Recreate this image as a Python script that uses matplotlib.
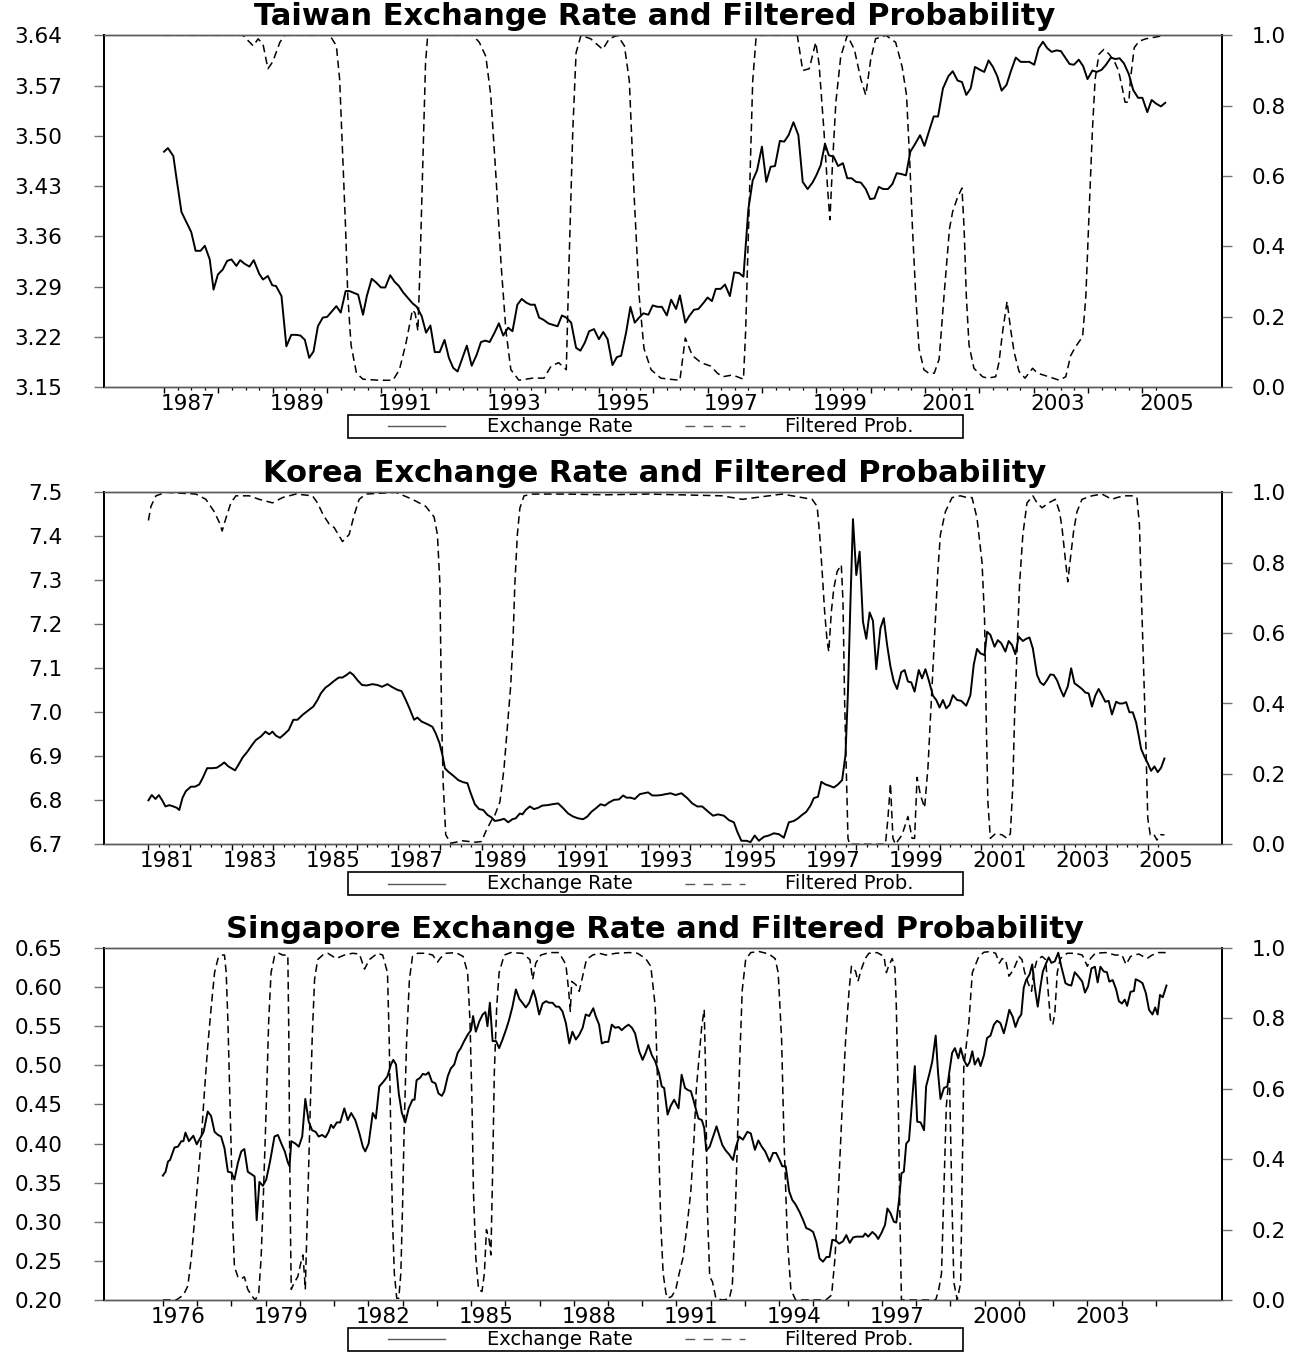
import numpy as np
import matplotlib.pyplot as plt
from matplotlib.patches import Rectangle
from matplotlib.lines import Line2D

# ---------------- Taiwan ----------------
tw_rate_t = [1987.00, 1987.07, 1987.17, 1987.23, 1987.32, 1987.41, 1987.50, 1987.58, 1987.67, 1987.75,
             1987.84, 1987.91, 1987.99, 1988.08, 1988.16, 1988.24, 1988.33, 1988.40, 1988.48, 1988.57,
             1988.65, 1988.75, 1988.82, 1988.91, 1988.99, 1989.06, 1989.16, 1989.25, 1989.34, 1989.43,
             1989.51, 1989.59, 1989.67, 1989.75, 1989.83, 1989.92, 1990.00, 1990.08, 1990.17, 1990.25,
             1990.34, 1990.41, 1990.57, 1990.66, 1990.73, 1990.82, 1990.90, 1990.99, 1991.07, 1991.16,
             1991.24, 1991.32, 1991.40, 1991.48, 1991.57, 1991.65, 1991.74, 1991.82, 1991.90, 1991.98,
             1992.07, 1992.16, 1992.24, 1992.32, 1992.40, 1992.49, 1992.57, 1992.66, 1992.75, 1992.83,
             1992.91, 1992.99, 1993.08, 1993.16, 1993.24, 1993.33, 1993.41, 1993.50, 1993.58, 1993.66,
             1993.74, 1993.82, 1993.90, 1993.98, 1994.07, 1994.15, 1994.24, 1994.32, 1994.40, 1994.49,
             1994.58, 1994.66, 1994.74, 1994.82, 1994.91, 1995.00, 1995.08, 1995.16, 1995.25, 1995.33,
             1995.41, 1995.50, 1995.58, 1995.66, 1995.74, 1995.82, 1995.91, 1995.99, 1996.08, 1996.16,
             1996.25, 1996.33, 1996.42, 1996.49, 1996.59, 1996.66, 1996.75, 1996.83, 1996.93, 1997.00,
             1997.08, 1997.15, 1997.24, 1997.32, 1997.41, 1997.49, 1997.58, 1997.66, 1997.75, 1997.83,
             1997.91, 1998.00, 1998.08, 1998.16, 1998.24, 1998.33, 1998.41, 1998.49, 1998.58, 1998.67,
             1998.75, 1998.84, 1998.93, 1999.00, 1999.08, 1999.16, 1999.23, 1999.32, 1999.40, 1999.49,
             1999.57, 1999.65, 1999.73, 1999.82, 1999.91, 1999.99, 2000.07, 2000.15, 2000.23, 2000.32,
             2000.40, 2000.48, 2000.56, 2000.65, 2000.73, 2000.82, 2000.91, 2000.99, 2001.08, 2001.16,
             2001.24, 2001.33, 2001.43, 2001.51, 2001.60, 2001.68, 2001.76, 2001.84, 2001.92, 2002.01,
             2002.09, 2002.17, 2002.25, 2002.33, 2002.41, 2002.50, 2002.58, 2002.67, 2002.76, 2002.84,
             2002.92, 2003.01, 2003.09, 2003.17, 2003.25, 2003.33, 2003.42, 2003.50, 2003.58, 2003.66,
             2003.74, 2003.83, 2003.91, 2003.99, 2004.08, 2004.16, 2004.25, 2004.33, 2004.42, 2004.50,
             2004.58, 2004.66, 2004.75, 2004.83, 2004.92, 2005.00, 2005.09, 2005.17, 2005.25, 2005.34,
             2005.42]
tw_rate_v = [3.478, 3.483, 3.472, 3.440, 3.394, 3.380, 3.366, 3.340, 3.340, 3.347,
             3.328, 3.286, 3.307, 3.314, 3.326, 3.328, 3.319, 3.327, 3.322, 3.318,
             3.327, 3.308, 3.300, 3.305, 3.292, 3.291, 3.277, 3.207, 3.223, 3.223,
             3.222, 3.216, 3.191, 3.200, 3.235, 3.247, 3.248, 3.255, 3.263, 3.254,
             3.284, 3.284, 3.279, 3.251, 3.277, 3.301, 3.296, 3.289, 3.289, 3.306,
             3.297, 3.291, 3.282, 3.275, 3.267, 3.262, 3.249, 3.226, 3.236, 3.199,
             3.199, 3.216, 3.191, 3.177, 3.172, 3.191, 3.208, 3.180, 3.195, 3.213,
             3.215, 3.213, 3.226, 3.239, 3.222, 3.233, 3.228, 3.265, 3.273, 3.268,
             3.265, 3.265, 3.247, 3.244, 3.239, 3.237, 3.235, 3.250, 3.247, 3.240,
             3.205, 3.201, 3.212, 3.228, 3.231, 3.217, 3.227, 3.217, 3.181, 3.192,
             3.194, 3.226, 3.262, 3.240, 3.247, 3.253, 3.251, 3.264, 3.262, 3.262,
             3.250, 3.272, 3.259, 3.278, 3.240, 3.249, 3.258, 3.259, 3.268, 3.275,
             3.270, 3.287, 3.287, 3.293, 3.277, 3.310, 3.309, 3.304, 3.398, 3.438,
             3.452, 3.485, 3.436, 3.457, 3.458, 3.493, 3.492, 3.501, 3.519, 3.501,
             3.436, 3.426, 3.435, 3.445, 3.459, 3.489, 3.473, 3.471, 3.458, 3.462,
             3.441, 3.441, 3.436, 3.435, 3.426, 3.412, 3.413, 3.429, 3.426, 3.426,
             3.433, 3.448, 3.447, 3.445, 3.478, 3.489, 3.501, 3.486, 3.508, 3.527,
             3.527, 3.566, 3.583, 3.590, 3.577, 3.575, 3.557, 3.566, 3.596, 3.592,
             3.589, 3.605, 3.596, 3.583, 3.563, 3.571, 3.590, 3.609, 3.603, 3.603,
             3.603, 3.599, 3.622, 3.631, 3.622, 3.617, 3.619, 3.618, 3.609, 3.600,
             3.599, 3.606, 3.597, 3.579, 3.591, 3.589, 3.592, 3.599, 3.609, 3.607,
             3.608, 3.601, 3.586, 3.564, 3.553, 3.553, 3.533, 3.550, 3.545, 3.541,
             3.546]
tw_prob_t = [1987.00, 1988.45, 1988.64, 1988.73, 1988.82, 1988.91, 1989.00, 1989.13, 1989.22, 1990.05,
             1990.17, 1990.23, 1990.29, 1990.34, 1990.38, 1990.44, 1990.54, 1990.66, 1990.96, 1991.21,
             1991.33, 1991.45, 1991.57, 1991.62, 1991.67, 1991.71, 1991.76, 1991.81, 1991.85, 1992.68,
             1992.80, 1992.92, 1993.01, 1993.11, 1993.20, 1993.29, 1993.38, 1993.53, 1993.78, 1993.99,
             1994.12, 1994.26, 1994.40, 1994.45, 1994.52, 1994.58, 1994.67, 1994.85, 1995.07, 1995.19,
             1995.34, 1995.47, 1995.56, 1995.65, 1995.74, 1995.83, 1995.96, 1996.14, 1996.30, 1996.49,
             1996.59, 1996.72, 1996.88, 1997.06, 1997.18, 1997.28, 1997.46, 1997.66, 1997.70, 1997.77,
             1997.83, 1997.89, 1997.98, 1998.65, 1998.75, 1998.87, 1998.99, 1999.05, 1999.14, 1999.21,
             1999.25, 1999.30, 1999.36, 1999.45, 1999.57, 1999.70, 1999.82, 1999.91, 2000.00, 2000.09,
             2000.28, 2000.46, 2000.58, 2000.66, 2000.72, 2000.77, 2000.83, 2000.89, 2000.98, 2001.07,
             2001.17, 2001.26, 2001.35, 2001.45, 2001.51, 2001.60, 2001.68, 2001.72, 2001.76, 2001.81,
             2001.90, 2002.06, 2002.15, 2002.30, 2002.36, 2002.43, 2002.51, 2002.58, 2002.64, 2002.73,
             2002.84, 2002.98, 2003.07, 2003.28, 2003.47, 2003.59, 2003.68, 2003.77, 2003.90, 2003.96,
             2004.02, 2004.08, 2004.13, 2004.20, 2004.29, 2004.39, 2004.48, 2004.56, 2004.63, 2004.68,
             2004.75, 2004.78, 2004.85, 2004.94, 2005.06, 2005.42]
tw_prob_v = [1.0, 1.0, 0.97, 0.99, 0.975, 0.905, 0.925, 0.98, 1.0, 1.0,
             0.97, 0.875, 0.64, 0.45, 0.26, 0.12, 0.04, 0.023, 0.02, 0.02,
             0.05, 0.125, 0.22, 0.21, 0.16, 0.35, 0.64, 0.92, 1.0, 1.0,
             0.98, 0.94, 0.83, 0.59, 0.35, 0.16, 0.05, 0.02, 0.026, 0.026,
             0.06, 0.07, 0.05, 0.35, 0.73, 0.95, 1.0, 0.99, 0.96, 0.99,
             1.0, 0.97, 0.87, 0.54, 0.26, 0.11, 0.05, 0.026, 0.023, 0.02,
             0.14, 0.09, 0.07, 0.06, 0.04, 0.03, 0.035, 0.023, 0.16, 0.54,
             0.87, 0.99, 1.0, 1.0, 0.90, 0.905, 0.98, 0.92, 0.73, 0.56,
             0.476, 0.64, 0.81, 0.94, 1.0, 0.96, 0.875, 0.83, 0.93, 0.99,
             1.0, 0.98, 0.91, 0.83, 0.64, 0.45, 0.26, 0.11, 0.05, 0.04,
             0.04, 0.08, 0.26, 0.45, 0.50, 0.54, 0.566, 0.45, 0.26, 0.12,
             0.054, 0.03, 0.026, 0.03, 0.07, 0.16, 0.244, 0.16, 0.10, 0.045,
             0.026, 0.054, 0.04, 0.03, 0.02, 0.03, 0.09, 0.115, 0.144, 0.26,
             0.50, 0.73, 0.875, 0.946, 0.96, 0.946, 0.927, 0.90, 0.85, 0.81,
             0.81, 0.875, 0.965, 0.983, 0.99, 1.0]

# ---------------- Korea ----------------
kr_rate_t = [1981.00, 1981.08, 1981.17, 1981.25, 1981.33, 1981.41, 1981.50, 1981.60, 1981.68, 1981.74,
             1981.82, 1981.90, 1982.02, 1982.12, 1982.22, 1982.30, 1982.41, 1982.53, 1982.64, 1982.74,
             1982.82, 1982.92, 1983.08, 1983.17, 1983.26, 1983.38, 1983.49, 1983.58, 1983.70, 1983.81,
             1983.90, 1983.98, 1984.06, 1984.16, 1984.26, 1984.37, 1984.48, 1984.58, 1984.70, 1984.82,
             1984.96, 1985.06, 1985.14, 1985.25, 1985.34, 1985.44, 1985.57, 1985.66, 1985.76, 1985.84,
             1985.92, 1986.02, 1986.13, 1986.24, 1986.38, 1986.50, 1986.61, 1986.74, 1986.86, 1986.98,
             1987.08, 1987.18, 1987.26, 1987.38, 1987.46, 1987.56, 1987.70, 1987.82, 1987.90, 1987.99,
             1988.06, 1988.12, 1988.20, 1988.32, 1988.44, 1988.56, 1988.66, 1988.74, 1988.84, 1988.94,
             1989.04, 1989.14, 1989.24, 1989.32, 1989.44, 1989.54, 1989.64, 1989.74, 1989.82, 1989.92,
             1989.98, 1990.06, 1990.16, 1990.26, 1990.36, 1990.46, 1990.58, 1990.70, 1990.84, 1990.96,
             1991.08, 1991.20, 1991.32, 1991.44, 1991.54, 1991.64, 1991.76, 1991.86, 1991.96, 1992.06,
             1992.18, 1992.30, 1992.40, 1992.48, 1992.58, 1992.68, 1992.80, 1992.90, 1993.00, 1993.10,
             1993.22, 1993.32, 1993.42, 1993.54, 1993.66, 1993.80, 1993.94, 1994.06, 1994.18, 1994.30,
             1994.42, 1994.56, 1994.68, 1994.82, 1994.94, 1995.06, 1995.14, 1995.24, 1995.36, 1995.46,
             1995.56, 1995.66, 1995.78, 1995.90, 1996.02, 1996.14, 1996.26, 1996.38, 1996.50, 1996.60,
             1996.70, 1996.80, 1996.90, 1996.98, 1997.08, 1997.16, 1997.26, 1997.36, 1997.46, 1997.56,
             1997.66, 1997.74, 1997.80, 1997.86, 1997.92, 1998.00, 1998.08, 1998.16, 1998.24, 1998.32,
             1998.40, 1998.48, 1998.58, 1998.66, 1998.74, 1998.82, 1998.90, 1998.98, 1999.08, 1999.16,
             1999.24, 1999.32, 1999.40, 1999.50, 1999.58, 1999.66, 1999.74, 1999.84, 1999.92, 2000.00,
             2000.08, 2000.16, 2000.24, 2000.32, 2000.42, 2000.52, 2000.64, 2000.74, 2000.82, 2000.90,
             2000.98, 2001.08, 2001.14, 2001.22, 2001.32, 2001.40, 2001.48, 2001.58, 2001.66, 2001.74,
             2001.82, 2001.90, 2002.00, 2002.08, 2002.16, 2002.24, 2002.34, 2002.42, 2002.50, 2002.58,
             2002.66, 2002.74, 2002.82, 2002.90, 2002.98, 2003.08, 2003.16, 2003.24, 2003.34, 2003.42,
             2003.50, 2003.58, 2003.66, 2003.74, 2003.82, 2003.90, 2003.98, 2004.06, 2004.14, 2004.24,
             2004.32, 2004.40, 2004.48, 2004.56, 2004.64, 2004.72, 2004.78, 2004.84, 2004.92, 2005.00,
             2005.08, 2005.16, 2005.24, 2005.32, 2005.40]
kr_rate_v = [6.800, 6.812, 6.803, 6.812, 6.800, 6.786, 6.789, 6.786, 6.783, 6.778,
             6.806, 6.821, 6.831, 6.831, 6.836, 6.850, 6.873, 6.873, 6.874, 6.880,
             6.886, 6.877, 6.868, 6.882, 6.897, 6.911, 6.926, 6.937, 6.945, 6.956,
             6.950, 6.956, 6.947, 6.942, 6.950, 6.960, 6.983, 6.983, 6.994, 7.003,
             7.013, 7.028, 7.043, 7.056, 7.062, 7.070, 7.079, 7.079, 7.085, 7.091,
             7.085, 7.073, 7.062, 7.061, 7.064, 7.062, 7.058, 7.064, 7.057, 7.051,
             7.048, 7.028, 7.011, 6.983, 6.988, 6.979, 6.973, 6.967, 6.952, 6.930,
             6.903, 6.873, 6.865, 6.856, 6.846, 6.841, 6.839, 6.816, 6.791, 6.780,
             6.778, 6.767, 6.761, 6.753, 6.755, 6.758, 6.750, 6.757, 6.759, 6.770,
             6.768, 6.778, 6.786, 6.780, 6.783, 6.788, 6.789, 6.791, 6.793, 6.782,
             6.770, 6.763, 6.759, 6.757, 6.763, 6.774, 6.783, 6.791, 6.788, 6.795,
             6.801, 6.802, 6.811, 6.806, 6.806, 6.803, 6.814, 6.816, 6.818, 6.811,
             6.811, 6.812, 6.814, 6.816, 6.812, 6.816, 6.805, 6.793, 6.786, 6.786,
             6.776, 6.765, 6.768, 6.765, 6.755, 6.750, 6.729, 6.708, 6.708, 6.705,
             6.720, 6.708, 6.717, 6.720, 6.725, 6.723, 6.715, 6.750, 6.753, 6.759,
             6.767, 6.774, 6.788, 6.805, 6.808, 6.842, 6.836, 6.833, 6.829, 6.836,
             6.846, 6.903, 7.047, 7.252, 7.439, 7.312, 7.365, 7.206, 7.167, 7.227,
             7.208, 7.098, 7.191, 7.214, 7.153, 7.104, 7.070, 7.053, 7.091, 7.096,
             7.070, 7.068, 7.047, 7.096, 7.077, 7.098, 7.073, 7.038, 7.028, 7.011,
             7.028, 7.009, 7.017, 7.039, 7.028, 7.026, 7.015, 7.039, 7.108, 7.144,
             7.134, 7.130, 7.183, 7.176, 7.149, 7.164, 7.157, 7.138, 7.162, 7.153,
             7.132, 7.172, 7.162, 7.167, 7.170, 7.145, 7.085, 7.068, 7.062, 7.073,
             7.086, 7.085, 7.073, 7.053, 7.036, 7.059, 7.100, 7.066, 7.059, 7.053,
             7.045, 7.043, 7.013, 7.038, 7.053, 7.039, 7.024, 7.026, 6.995, 7.024,
             7.020, 7.020, 7.023, 7.000, 7.000, 6.977, 6.948, 6.917, 6.899, 6.884,
             6.867, 6.877, 6.864, 6.874, 6.895]
kr_prob_t = [1981.00, 1981.06, 1981.18, 1981.42, 1982.14, 1982.38, 1982.58, 1982.72, 1982.77, 1982.86,
             1982.98, 1983.10, 1983.42, 1983.66, 1983.98, 1984.22, 1984.54, 1984.94, 1985.06, 1985.20,
             1985.34, 1985.46, 1985.66, 1985.82, 1985.94, 1986.06, 1986.22, 1986.94, 1987.34, 1987.66,
             1987.86, 1987.94, 1988.00, 1988.02, 1988.04, 1988.08, 1988.14, 1988.26, 1988.54, 1988.86,
             1989.00, 1989.10, 1989.22, 1989.32, 1989.44, 1989.54, 1989.64, 1989.70, 1989.76, 1989.80,
             1989.86, 1989.92, 1990.02, 1990.22, 1991.00, 1992.00, 1993.00, 1994.78, 1995.26, 1995.58,
             1996.22, 1996.70, 1996.94, 1997.06, 1997.12, 1997.18, 1997.24, 1997.30, 1997.34, 1997.40,
             1997.46, 1997.54, 1997.64, 1997.68, 1997.72, 1997.77, 1997.80, 1997.84, 1998.70, 1998.76,
             1998.82, 1998.88, 1998.94, 1999.10, 1999.24, 1999.34, 1999.40, 1999.46, 1999.54, 1999.64,
             1999.72, 1999.78, 1999.84, 1999.90, 1999.96, 2000.02, 2000.14, 2000.30, 2000.50, 2000.66,
             2000.78, 2000.90, 2001.02, 2001.08, 2001.12, 2001.16, 2001.22, 2001.34, 2001.50, 2001.62,
             2001.70, 2001.76, 2001.80, 2001.86, 2001.92, 2002.00, 2002.10, 2002.24, 2002.34, 2002.46,
             2002.62, 2002.78, 2002.88, 2002.94, 2003.02, 2003.08, 2003.14, 2003.22, 2003.30, 2003.42,
             2003.66, 2003.90, 2004.14, 2004.26, 2004.42, 2004.62, 2004.74, 2004.80, 2004.84, 2004.90,
             2004.96, 2005.00, 2005.06, 2005.14, 2005.22, 2005.30, 2005.40]
kr_prob_v = [0.92, 0.96, 0.99, 1.0, 0.995, 0.98, 0.945, 0.91, 0.89, 0.926,
             0.97, 0.99, 0.99, 0.98, 0.97, 0.985, 0.995, 0.99, 0.97, 0.935,
             0.91, 0.90, 0.86, 0.88, 0.935, 0.98, 0.995, 1.0, 0.98, 0.96,
             0.93, 0.88, 0.74, 0.55, 0.36, 0.17, 0.027, 0.003, 0.01, 0.006,
             0.008, 0.036, 0.064, 0.083, 0.12, 0.216, 0.36, 0.45, 0.595, 0.74,
             0.88, 0.955, 0.99, 0.995, 0.995, 0.993, 0.995, 0.99, 0.98, 0.985,
             0.995, 0.985, 0.98, 0.96, 0.88, 0.775, 0.66, 0.576, 0.547, 0.66,
             0.727, 0.775, 0.794, 0.69, 0.405, 0.17, 0.017, 0.0, 0.0, 0.074,
             0.173, 0.017, 0.0, 0.027, 0.079, 0.017, 0.017, 0.19, 0.14, 0.104,
             0.216, 0.358, 0.50, 0.64, 0.78, 0.88, 0.945, 0.985, 0.99, 0.985,
             0.985, 0.926, 0.80, 0.64, 0.36, 0.12, 0.017, 0.03, 0.027, 0.017,
             0.03, 0.17, 0.36, 0.547, 0.737, 0.88, 0.97, 0.99, 0.97, 0.956,
             0.97, 0.98, 0.945, 0.90, 0.81, 0.746, 0.81, 0.89, 0.945, 0.98,
             0.99, 0.995, 0.98, 0.985, 0.99, 0.99, 0.985, 0.907, 0.737, 0.50,
             0.263, 0.074, 0.027, 0.03, 0.012, 0.027, 0.027]

# ---------------- Singapore ----------------
sg_rate_t = [1976.00, 1976.08, 1976.15, 1976.21, 1976.34, 1976.44, 1976.54, 1976.60, 1976.66, 1976.76,
             1976.89, 1976.99, 1977.09, 1977.19, 1977.31, 1977.41, 1977.51, 1977.61, 1977.70, 1977.80,
             1977.90, 1978.00, 1978.09, 1978.19, 1978.29, 1978.38, 1978.48, 1978.58, 1978.68, 1978.74,
             1978.82, 1978.92, 1979.02, 1979.13, 1979.26, 1979.36, 1979.46, 1979.56, 1979.65, 1979.70,
             1979.75, 1979.87, 1979.97, 1980.07, 1980.16, 1980.26, 1980.36, 1980.46, 1980.55, 1980.65,
             1980.75, 1980.84, 1980.91, 1980.98, 1981.08, 1981.18, 1981.30, 1981.40, 1981.50, 1981.62,
             1981.74, 1981.84, 1981.91, 1982.01, 1982.13, 1982.22, 1982.32, 1982.44, 1982.56, 1982.66,
             1982.73, 1982.81, 1982.89, 1982.98, 1983.08, 1983.18, 1983.29, 1983.35, 1983.41, 1983.51,
             1983.59, 1983.68, 1983.76, 1983.86, 1983.96, 1984.05, 1984.15, 1984.22, 1984.32, 1984.41,
             1984.51, 1984.61, 1984.70, 1984.80, 1984.90, 1985.00, 1985.06, 1985.14, 1985.24, 1985.34,
             1985.42, 1985.48, 1985.55, 1985.63, 1985.73, 1985.82, 1985.92, 1986.04, 1986.11, 1986.21,
             1986.31, 1986.41, 1986.50, 1986.60, 1986.70, 1986.82, 1986.89, 1986.99, 1987.09, 1987.19,
             1987.28, 1987.38, 1987.48, 1987.57, 1987.67, 1987.77, 1987.87, 1987.96, 1988.06, 1988.16,
             1988.26, 1988.35, 1988.45, 1988.57, 1988.64, 1988.74, 1988.82, 1988.92, 1989.01, 1989.11,
             1989.21, 1989.31, 1989.40, 1989.50, 1989.60, 1989.70, 1989.79, 1989.91, 1990.01, 1990.10,
             1990.18, 1990.28, 1990.38, 1990.49, 1990.57, 1990.64, 1990.74, 1990.83, 1990.93, 1991.06,
             1991.15, 1991.25, 1991.35, 1991.42, 1991.48, 1991.56, 1991.64, 1991.74, 1991.81, 1991.87,
             1991.97, 1992.07, 1992.17, 1992.26, 1992.34, 1992.44, 1992.54, 1992.65, 1992.73, 1992.83,
             1992.94, 1993.07, 1993.17, 1993.29, 1993.39, 1993.49, 1993.59, 1993.72, 1993.82, 1993.91,
             1994.01, 1994.09, 1994.19, 1994.29, 1994.38, 1994.48, 1994.60, 1994.70, 1994.79, 1994.89,
             1994.99, 1995.08, 1995.18, 1995.28, 1995.38, 1995.47, 1995.55, 1995.65, 1995.75, 1995.86,
             1995.96, 1996.06, 1996.16, 1996.25, 1996.35, 1996.45, 1996.51, 1996.60, 1996.72, 1996.82,
             1996.89, 1996.99, 1997.09, 1997.16, 1997.25, 1997.35, 1997.42, 1997.50, 1997.57, 1997.64,
             1997.71, 1997.79, 1997.86, 1997.96, 1998.03, 1998.13, 1998.23, 1998.29, 1998.39, 1998.47,
             1998.57, 1998.64, 1998.71, 1998.81, 1998.91, 1998.97, 1999.05, 1999.13, 1999.23, 1999.30,
             1999.39, 1999.49, 1999.56, 1999.64, 1999.71, 1999.81, 1999.88, 1999.98, 2000.07, 2000.17,
             2000.27, 2000.36, 2000.46, 2000.56, 2000.63, 2000.72, 2000.82, 2000.90, 2000.99, 2001.07,
             2001.14, 2001.21, 2001.31, 2001.39, 2001.46, 2001.55, 2001.63, 2001.70, 2001.80, 2001.87,
             2001.95, 2002.05, 2002.15, 2002.24, 2002.36, 2002.44, 2002.53, 2002.63, 2002.73, 2002.85,
             2002.93, 2003.02, 2003.12, 2003.22, 2003.30, 2003.38, 2003.48, 2003.57, 2003.64, 2003.74,
             2003.84, 2003.92, 2004.01, 2004.09, 2004.16, 2004.26, 2004.36, 2004.41, 2004.51, 2004.61,
             2004.71, 2004.80, 2004.90, 2004.98, 2005.05, 2005.12, 2005.20, 2005.31]
sg_rate_v = [0.359, 0.364, 0.377, 0.379, 0.395, 0.396, 0.403, 0.403, 0.414, 0.403,
             0.410, 0.399, 0.407, 0.415, 0.441, 0.435, 0.415, 0.411, 0.409, 0.394,
             0.364, 0.363, 0.354, 0.375, 0.390, 0.393, 0.364, 0.361, 0.358, 0.302,
             0.351, 0.346, 0.354, 0.377, 0.409, 0.411, 0.400, 0.390, 0.376, 0.371,
             0.403, 0.400, 0.396, 0.409, 0.457, 0.428, 0.417, 0.415, 0.409, 0.411,
             0.408, 0.415, 0.424, 0.420, 0.427, 0.427, 0.445, 0.430, 0.439, 0.430,
             0.413, 0.396, 0.390, 0.400, 0.439, 0.432, 0.473, 0.479, 0.486, 0.501,
             0.507, 0.501, 0.464, 0.439, 0.427, 0.445, 0.456, 0.456, 0.481, 0.484,
             0.489, 0.488, 0.491, 0.479, 0.477, 0.464, 0.461, 0.467, 0.486, 0.496,
             0.501, 0.516, 0.522, 0.531, 0.539, 0.545, 0.563, 0.543, 0.556, 0.565,
             0.568, 0.550, 0.580, 0.531, 0.531, 0.522, 0.533, 0.548, 0.558, 0.575,
             0.597, 0.585, 0.580, 0.574, 0.580, 0.596, 0.586, 0.565, 0.579, 0.582,
             0.580, 0.580, 0.575, 0.575, 0.569, 0.554, 0.528, 0.543, 0.533, 0.539,
             0.548, 0.565, 0.563, 0.573, 0.563, 0.552, 0.528, 0.530, 0.530, 0.552,
             0.548, 0.549, 0.545, 0.549, 0.552, 0.548, 0.541, 0.518, 0.507, 0.516,
             0.526, 0.513, 0.505, 0.490, 0.473, 0.471, 0.437, 0.448, 0.456, 0.445,
             0.488, 0.471, 0.468, 0.467, 0.458, 0.445, 0.432, 0.430, 0.420, 0.391,
             0.396, 0.409, 0.422, 0.409, 0.398, 0.391, 0.386, 0.379, 0.395, 0.409,
             0.405, 0.415, 0.413, 0.392, 0.404, 0.396, 0.390, 0.377, 0.388, 0.388,
             0.379, 0.371, 0.371, 0.339, 0.328, 0.322, 0.312, 0.302, 0.292, 0.290,
             0.287, 0.275, 0.253, 0.249, 0.255, 0.255, 0.277, 0.276, 0.272, 0.275,
             0.283, 0.273, 0.280, 0.281, 0.281, 0.281, 0.285, 0.281, 0.287, 0.283,
             0.278, 0.286, 0.296, 0.317, 0.311, 0.300, 0.299, 0.328, 0.362, 0.364,
             0.400, 0.404, 0.443, 0.499, 0.428, 0.427, 0.417, 0.473, 0.490, 0.505,
             0.538, 0.490, 0.457, 0.471, 0.473, 0.492, 0.516, 0.522, 0.509, 0.522,
             0.507, 0.499, 0.504, 0.518, 0.501, 0.509, 0.499, 0.513, 0.535, 0.538,
             0.552, 0.557, 0.554, 0.541, 0.553, 0.571, 0.562, 0.549, 0.560, 0.565,
             0.599, 0.609, 0.616, 0.629, 0.601, 0.575, 0.601, 0.620, 0.631, 0.638,
             0.631, 0.633, 0.644, 0.626, 0.605, 0.603, 0.602, 0.619, 0.614, 0.607,
             0.593, 0.601, 0.624, 0.626, 0.606, 0.626, 0.620, 0.619, 0.607, 0.609,
             0.597, 0.582, 0.579, 0.584, 0.576, 0.594, 0.595, 0.610, 0.608, 0.605,
             0.592, 0.571, 0.565, 0.574, 0.565, 0.590, 0.587, 0.602]
sg_prob_t = [1976.00, 1976.39, 1976.60, 1976.73, 1976.83, 1976.92, 1977.02, 1977.12, 1977.22, 1977.31,
             1977.41, 1977.51, 1977.61, 1977.70, 1977.80, 1977.85, 1977.90, 1977.95, 1978.00, 1978.04,
             1978.09, 1978.19, 1978.29, 1978.38, 1978.48, 1978.61, 1978.70, 1978.80, 1978.87, 1978.94,
             1979.02, 1979.09, 1979.16, 1979.26, 1979.39, 1979.50, 1979.65, 1979.68, 1979.70, 1979.73,
             1979.75, 1979.84, 1979.94, 1980.04, 1980.09, 1980.13, 1980.16, 1980.20, 1980.28, 1980.36,
             1980.43, 1980.52, 1980.67, 1980.82, 1981.06, 1981.30, 1981.54, 1981.74, 1981.89, 1982.03,
             1982.27, 1982.42, 1982.56, 1982.61, 1982.66, 1982.71, 1982.76, 1982.83, 1982.89, 1982.95,
             1983.00, 1983.05, 1983.12, 1983.20, 1983.29, 1983.44, 1983.68, 1983.88, 1984.02, 1984.12,
             1984.27, 1984.56, 1984.77, 1984.90, 1984.97, 1985.03, 1985.07, 1985.14, 1985.22, 1985.32,
             1985.39, 1985.45, 1985.53, 1985.58, 1985.63, 1985.68, 1985.75, 1985.82, 1985.97, 1986.16,
             1986.50, 1986.72, 1986.80, 1986.89, 1987.04, 1987.28, 1987.57, 1987.77, 1987.85, 1987.90,
             1987.94, 1988.06, 1988.16, 1988.26, 1988.37, 1988.55, 1988.74, 1988.94, 1989.23, 1989.62,
             1989.86, 1990.10, 1990.25, 1990.38, 1990.44, 1990.49, 1990.54, 1990.61, 1990.69, 1990.74,
             1990.86, 1990.98, 1991.08, 1991.19, 1991.32, 1991.42, 1991.51, 1991.58, 1991.66, 1991.74,
             1991.81, 1991.85, 1991.90, 1991.97, 1992.05, 1992.15, 1992.34, 1992.54, 1992.63, 1992.71,
             1992.78, 1992.85, 1992.92, 1993.02, 1993.17, 1993.41, 1993.70, 1993.88, 1993.97, 1994.07,
             1994.14, 1994.24, 1994.34, 1994.48, 1995.36, 1995.53, 1995.63, 1995.73, 1995.84, 1995.94,
             1996.04, 1996.11, 1996.23, 1996.30, 1996.38, 1996.51, 1996.62, 1996.86, 1997.06, 1997.13,
             1997.20, 1997.30, 1997.38, 1997.42, 1997.48, 1997.52, 1997.57, 1998.57, 1998.66, 1998.74,
             1998.81, 1998.88, 1998.97, 1999.04, 1999.10, 1999.20, 1999.30, 1999.39, 1999.54, 1999.64,
             1999.83, 1999.98, 2000.17, 2000.32, 2000.43, 2000.51, 2000.61, 2000.71, 2000.85, 2001.00,
             2001.09, 2001.17, 2001.27, 2001.37, 2001.43, 2001.53, 2001.68, 2001.78, 2001.85, 2001.92,
             2001.99, 2002.05, 2002.12, 2002.21, 2002.41, 2002.65, 2002.85, 2003.00, 2003.09, 2003.23,
             2003.53, 2003.82, 2004.01, 2004.13, 2004.26, 2004.50, 2004.74, 2004.89, 2005.08, 2005.31]
sg_prob_v = [0.0, 0.0, 0.014, 0.04, 0.12, 0.22, 0.34, 0.455, 0.60, 0.72,
             0.83, 0.93, 0.97, 0.98, 0.98, 0.93, 0.79, 0.60, 0.41, 0.22,
             0.095, 0.066, 0.06, 0.066, 0.03, 0.01, 0.0, 0.02, 0.12, 0.31,
             0.55, 0.79, 0.93, 0.976, 0.985, 0.98, 0.98, 0.74, 0.455, 0.17,
             0.03, 0.05, 0.066, 0.11, 0.128, 0.076, 0.03, 0.17, 0.455, 0.74,
             0.91, 0.967, 0.98, 0.985, 0.97, 0.98, 0.985, 0.983, 0.94, 0.967,
             0.985, 0.98, 0.93, 0.74, 0.455, 0.22, 0.076, 0.005, 0.005, 0.076,
             0.265, 0.50, 0.74, 0.91, 0.976, 0.985, 0.985, 0.98, 0.96, 0.973,
             0.985, 0.987, 0.976, 0.93, 0.79, 0.55, 0.31, 0.12, 0.03, 0.024,
             0.076, 0.20, 0.17, 0.128, 0.36, 0.645, 0.834, 0.93, 0.98, 0.987,
             0.985, 0.967, 0.91, 0.957, 0.98, 0.987, 0.987, 0.953, 0.88, 0.82,
             0.905, 0.896, 0.877, 0.92, 0.967, 0.98, 0.985, 0.98, 0.985, 0.987,
             0.985, 0.97, 0.948, 0.834, 0.645, 0.41, 0.22, 0.076, 0.02, 0.005,
             0.01, 0.03, 0.076, 0.12, 0.22, 0.31, 0.455, 0.60, 0.69, 0.78,
             0.825, 0.645, 0.265, 0.066, 0.052, 0.005, 0.0, 0.003, 0.04, 0.22,
             0.455, 0.69, 0.88, 0.967, 0.987, 0.99, 0.983, 0.97, 0.93, 0.74,
             0.455, 0.17, 0.03, 0.0, 0.0, 0.014, 0.12, 0.31, 0.55, 0.74,
             0.88, 0.948, 0.934, 0.905, 0.934, 0.97, 0.985, 0.987, 0.976, 0.93,
             0.95, 0.97, 0.943, 0.834, 0.55, 0.265, 0.0, 0.0, 0.03, 0.076,
             0.31, 0.55, 0.645, 0.30, 0.05, 0.0, 0.05, 0.66, 0.79, 0.93,
             0.976, 0.988, 0.99, 0.985, 0.957, 0.97, 0.967, 0.92, 0.94, 0.976,
             0.967, 0.93, 0.90, 0.877, 0.93, 0.967, 0.976, 0.967, 0.88, 0.796,
             0.782, 0.815, 0.93, 0.97, 0.985, 0.985, 0.98, 0.948, 0.97, 0.985,
             0.987, 0.98, 0.98, 0.953, 0.976, 0.983, 0.97, 0.98, 0.987, 0.987]

tw_yticks = [3.15, 3.22, 3.29, 3.36, 3.43, 3.50, 3.57, 3.64]
kr_yticks = [6.7, 6.8, 6.9, 7.0, 7.1, 7.2, 7.3, 7.4, 7.5]
sg_yticks = [0.20, 0.25, 0.30, 0.35, 0.40, 0.45, 0.50, 0.55, 0.60, 0.65]
prob_ticks = [0.0, 0.2, 0.4, 0.6, 0.8, 1.0]

tw_labels = list(range(1987, 2006, 2))
kr_labels = list(range(1981, 2006, 2))
sg_labels = list(range(1976, 2004, 3))

AX_H = 352.0  # axes height in px, used for offsets below the axis


def draw_panel(ax, rate_t, rate_v, prob_t, prob_v, title, xlim, yticks, yfmt,
               years, quarters, label_years):
    ax2 = ax.twinx()
    ax.plot(rate_t, rate_v, color='black', lw=1.4)
    ax2.plot(prob_t, prob_v, color='black', lw=1.1, linestyle=(0, (5, 3)))

    ax.set_xlim(xlim)
    ax.set_ylim(yticks[0], yticks[-1])
    ax2.set_ylim(0, 1)

    ax.set_yticks(yticks)
    ax.set_yticklabels([yfmt % v for v in yticks])
    ax2.set_yticks(prob_ticks)
    ax2.set_yticklabels(['%.1f' % v for v in prob_ticks])

    ax.set_xticks(years)
    ax.set_xticklabels([])
    if quarters:
        qs = [y + q / 4 for y in years for q in range(4)]
        qs = [q for q in qs if q <= years[-1] + 0.26]
        ax.set_xticks(qs, minor=True)
    ax.tick_params(axis='x', which='major', direction='out', length=4.5, width=1.0, color='black')
    ax.tick_params(axis='x', which='minor', direction='out', length=2.3, width=0.9, color='black')
    ax.tick_params(axis='y', direction='out', length=7, width=1.0, color='0.45', pad=23, labelsize=15.5)
    ax2.tick_params(axis='y', direction='out', length=7, width=1.0, color='0.45', pad=14, labelsize=15.5)

    for a in (ax, ax2):
        a.spines['left'].set_color('black')
        a.spines['left'].set_linewidth(1.4)
        a.spines['right'].set_color('black')
        a.spines['right'].set_linewidth(1.4)
        a.spines['top'].set_color('0.35')
        a.spines['top'].set_linewidth(1.0)
        a.spines['bottom'].set_color('0.35')
        a.spines['bottom'].set_linewidth(1.0)

    xt = ax.get_xaxis_transform()
    for yr in label_years:
        ax.text(yr + 0.44, -17.0 / AX_H, str(yr), transform=xt, ha='center', va='center',
                fontsize=15.5, clip_on=False)

    ax.text(0.4926, 1 + 10.5 / AX_H, title, transform=ax.transAxes, ha='center', va='baseline',
            fontsize=22, fontweight='bold')

    # legend box under the axis
    tr = ax.transAxes
    ly = -39.2 / AX_H
    ax.add_patch(Rectangle((0.218, -50.7 / AX_H), 0.550, 23.0 / AX_H, transform=tr, fill=False,
                           edgecolor='black', lw=1.2, clip_on=False))
    ax.add_line(Line2D([0.2537, 0.3047], [ly, ly], transform=tr, color='0.35', lw=1.0, clip_on=False))
    ax.text(0.3423, ly, 'Exchange Rate', transform=tr, ha='left', va='center', fontsize=14,
            clip_on=False)
    ax.add_line(Line2D([0.5194, 0.573], [ly, ly], transform=tr, color='0.35', lw=1.0,
                       linestyle=(0, (7, 6)), clip_on=False))
    ax.text(0.6089, ly, 'Filtered Prob.', transform=tr, ha='left', va='center', fontsize=14,
            clip_on=False)


fig = plt.figure(figsize=(13.15, 13.53), dpi=100)
left, width = 104.3 / 1315, 1118.0 / 1315
height = AX_H / 1353
ax_tw = fig.add_axes([left, 1 - 387.3 / 1353, width, height])
ax_kr = fig.add_axes([left, 1 - 844.3 / 1353, width, height])
ax_sg = fig.add_axes([left, 1 - 1300.0 / 1353, width, height])

draw_panel(ax_tw, tw_rate_t, tw_rate_v, tw_prob_t, tw_prob_v,
           'Taiwan Exchange Rate and Filtered Probability', (1985.9, 2006.47),
           tw_yticks, '%.2f', list(range(1987, 2006)), True, tw_labels)
draw_panel(ax_kr, kr_rate_t, kr_rate_v, kr_prob_t, kr_prob_v,
           'Korea Exchange Rate and Filtered Probability', (1979.94, 2006.79),
           kr_yticks, '%.1f', list(range(1981, 2006)), True, kr_labels)
draw_panel(ax_sg, sg_rate_t, sg_rate_v, sg_prob_t, sg_prob_v,
           'Singapore Exchange Rate and Filtered Probability', (1974.29, 2006.94),
           sg_yticks, '%.2f', list(range(1976, 2006)), False, sg_labels)

fig.savefig('out.png', dpi=100, facecolor='white')
